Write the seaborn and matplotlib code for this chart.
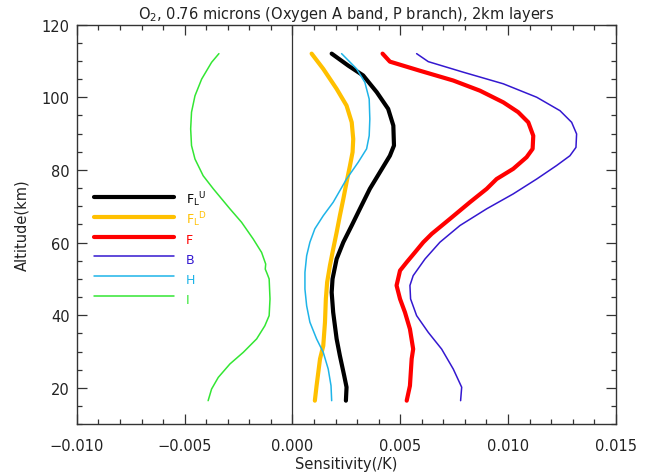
import numpy as np
import pandas as pd
import matplotlib
matplotlib.use("Agg")
import matplotlib.pyplot as plt
import seaborn as sns
from matplotlib.ticker import MultipleLocator, FuncFormatter

# ---- data (altitude km, sensitivity /K) ----
fl_up_alt = [112, 108.7, 106.0, 101.4, 96.8, 92.2, 86.7, 83.9, 79.4, 74.8, 69.3, 64.7, 60.1, 55.5, 50.0, 46.3, 40.8, 33.5, 28.9, 23.4, 20.2, 16.5]
fl_up_val = [0.00182, 0.00259, 0.00328, 0.00391, 0.00444, 0.00468, 0.00471, 0.00452, 0.00406, 0.00359, 0.00313, 0.00275, 0.00236, 0.00205, 0.00186, 0.00182, 0.00189, 0.00205, 0.00220, 0.00240, 0.00251, 0.00248]

fl_dn_alt = [112, 107.8, 102.3, 97.7, 93.1, 88.5, 84.9, 81.2, 76.6, 72.0, 67.4, 62.8, 58.2, 53.7, 49.1, 44.5, 38.1, 31.6, 28.0, 24.3, 20.6, 16.5]
fl_dn_val = [0.00089, 0.00143, 0.00205, 0.00251, 0.00275, 0.00282, 0.00279, 0.00267, 0.00251, 0.00236, 0.00220, 0.00205, 0.00189, 0.00174, 0.00161, 0.00155, 0.00151, 0.00143, 0.00128, 0.00120, 0.00112, 0.00104]

f_alt = [112, 109.8, 107.3, 104.6, 101.8, 98.6, 95.9, 93.1, 89.4, 85.8, 83.5, 80.3, 77.5, 74.8, 71.1, 66.5, 62.4, 60.1, 57.3, 54.6, 52.3, 48.2, 44.5, 40.8, 36.2, 30.7, 28.0, 20.6, 16.5]
f_val = [0.00418, 0.00452, 0.00591, 0.00746, 0.00870, 0.00978, 0.01047, 0.01094, 0.01117, 0.01114, 0.01086, 0.01024, 0.00947, 0.00901, 0.00823, 0.00730, 0.00646, 0.00607, 0.00568, 0.00530, 0.00499, 0.00483, 0.00499, 0.00522, 0.00545, 0.00560, 0.00553, 0.00545, 0.00530]

b_alt = [112, 109.8, 106.9, 103.7, 100.0, 96.3, 93.1, 89.9, 86.2, 83.9, 81.2, 77.5, 73.4, 69.3, 64.7, 60.1, 55.5, 50.9, 48.2, 44.5, 39.9, 35.3, 30.7, 25.2, 20.2, 16.5]
b_val = [0.00576, 0.00630, 0.00792, 0.00978, 0.01133, 0.01241, 0.01295, 0.01318, 0.01315, 0.01287, 0.01225, 0.01133, 0.01024, 0.00901, 0.00777, 0.00684, 0.00615, 0.00560, 0.00545, 0.00548, 0.00576, 0.00630, 0.00692, 0.00746, 0.00785, 0.00780]

h_alt = [112, 107.8, 104.1, 99.5, 94.0, 89.4, 85.8, 82.1, 77.5, 71.1, 67.4, 63.8, 60.1, 56.4, 51.8, 47.2, 42.6, 38.1, 33.5, 29.8, 25.2, 20.6, 16.5]
h_val = [0.00228, 0.00298, 0.00336, 0.00356, 0.00359, 0.00356, 0.00344, 0.00305, 0.00251, 0.00189, 0.00143, 0.00104, 0.00081, 0.00066, 0.00058, 0.00058, 0.00066, 0.00081, 0.00112, 0.00143, 0.00166, 0.00179, 0.00182]

i_alt = [112, 109.6, 105.0, 100.4, 95.9, 91.3, 86.7, 83.0, 78.4, 74.8, 69.3, 65.6, 61.0, 57.3, 54.1, 52.7, 51.4, 50.0, 44.5, 39.9, 37.1, 33.5, 29.8, 26.6, 22.9, 19.7, 16.5]
i_val = [-0.00341, -0.00375, -0.00421, -0.00452, -0.00468, -0.00472, -0.00468, -0.00452, -0.00414, -0.00367, -0.00290, -0.00236, -0.00182, -0.00143, -0.00124, -0.00126, -0.00117, -0.00108, -0.00104, -0.00108, -0.00128, -0.00166, -0.00228, -0.00290, -0.00344, -0.00375, -0.00391]

series_labels = [r'F$_\mathregular{L}$$^\mathregular{U}$', r'F$_\mathregular{L}$$^\mathregular{D}$', 'F', 'B', 'H', 'I']
series_alts = [fl_up_alt, fl_dn_alt, f_alt, b_alt, h_alt, i_alt]
series_vals = [fl_up_val, fl_dn_val, f_val, b_val, h_val, i_val]
series_colors = ['#000000', '#FFC000', '#FF0000', '#3418D0', '#1EB4E8', '#33E633']
series_widths = [3.0, 3.0, 3.0, 1.1, 1.1, 1.1]

title = r'O$_\mathregular{2}$, 0.76 microns (Oxygen A band, P branch), 2km layers'
xlabel = 'Sensitivity(/K)'
ylabel = 'Altitude(km)'

sns.set_theme(style='ticks')
plt.rcParams['font.family'] = ['DejaVu Sans']
plt.rcParams['mathtext.default'] = 'regular'

fig = plt.figure(figsize=(6.51, 4.77), dpi=100)
ax = fig.add_axes([0.118, 0.1084, 0.828, 0.838])

for lab, alts, vals, col, lw in zip(series_labels, series_alts, series_vals, series_colors, series_widths):
    df = pd.DataFrame({'alt': alts, 'sens': vals})
    sns.lineplot(data=df, x='sens', y='alt', sort=False, estimator=None,
                 color=col, linewidth=lw, label=lab, ax=ax)

ax.axvline(0.0, color='#333333', linewidth=0.9, zorder=1)

ax.set_xlim(-0.010, 0.015)
ax.set_ylim(10, 120)
ax.xaxis.set_major_locator(MultipleLocator(0.005))
ax.xaxis.set_minor_locator(MultipleLocator(0.001))
ax.xaxis.set_major_formatter(FuncFormatter(lambda v, p: ('%.3f' % v).replace('-', '\u2212') if abs(v) > 1e-12 else '0.000'))
ax.yaxis.set_major_locator(MultipleLocator(20))
ax.yaxis.set_minor_locator(MultipleLocator(5))
ax.tick_params(which='both', direction='in', top=True, right=True, colors='#333333', labelcolor='#222222', labelsize=10.5)
ax.tick_params(which='major', length=7, width=0.9)
ax.tick_params(which='minor', length=3.5, width=0.9)
ax.tick_params(axis='x', which='major', pad=10)
ax.tick_params(axis='y', which='major', pad=5)
for s in ax.spines.values():
    s.set_color('#333333')
    s.set_linewidth(1.0)

ax.set_xlabel(xlabel, fontsize=10.5, color='#222222', labelpad=2)
ax.set_ylabel(ylabel, fontsize=10.5, color='#222222', labelpad=9)
ax.set_title(title, fontsize=10.5, color='#222222', pad=5)

leg = ax.legend(loc='upper left', bbox_to_anchor=(0.031, 0.588), frameon=False,
                handlelength=6.4, handleheight=1.9, handletextpad=1.0, labelspacing=0.1,
                borderpad=0, borderaxespad=0, fontsize=9, labelcolor='linecolor')

fig.savefig('out.png', dpi=100)
